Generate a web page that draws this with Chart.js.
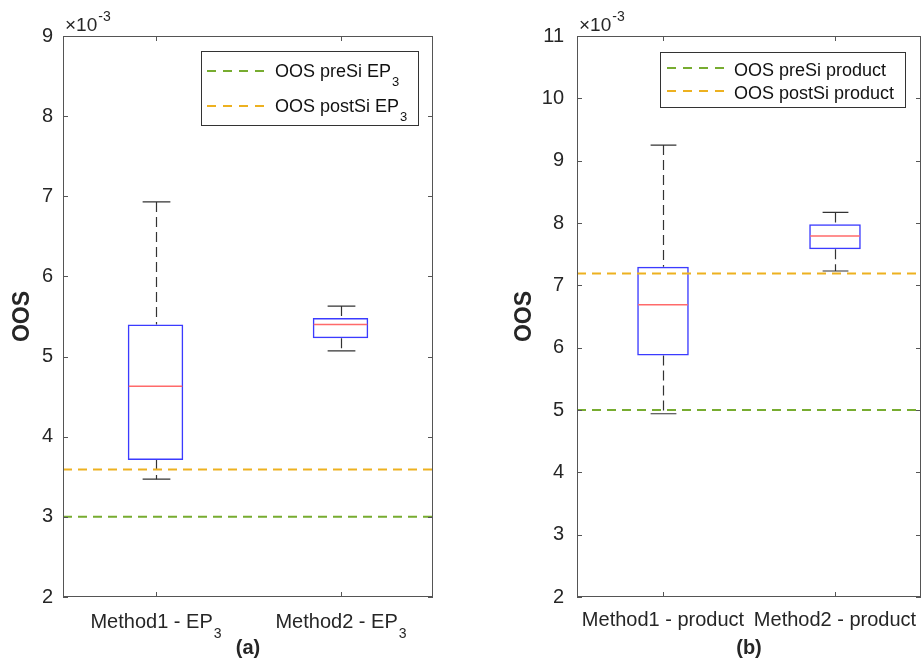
<!DOCTYPE html>
<html>
<head>
<meta charset="utf-8">
<script src="https://cdn.jsdelivr.net/npm/chart.js@4.4.0/dist/chart.umd.min.js"></script>
<style>
  body { margin: 0; background: #fff; }
  #wrap { position: relative; width: 922px; height: 666px; }
  canvas { position: absolute; top: 0; }
  #chartA { left: 0; }
  #chartB { left: 460px; }
</style>
</head>
<body>
<div id="wrap">
  <canvas id="chartA" width="460" height="666"></canvas>
  <canvas id="chartB" width="462" height="666"></canvas>
</div>
<script>
// panel (a) - EP3
const categoriesA = ['Method1 - EP_3', 'Method2 - EP_3'];
const lowA  = [0.00347, 0.00507];
const q1A   = [0.00371, 0.00523];
const medA  = [0.00463, 0.00540];
const q3A   = [0.00540, 0.00548];
const highA = [0.00693, 0.00563];
const refNamesA  = ['OOS preSi EP_3', 'OOS postSi EP_3'];
const refValuesA = [0.00300, 0.00359];

// panel (b) - product
const categoriesB = ['Method1 - product', 'Method2 - product'];
const lowB  = [0.00494, 0.00723];
const q1B   = [0.005875, 0.00758];
const medB  = [0.00669, 0.00779];
const q3B   = [0.00730, 0.00798];
const highB = [0.00925, 0.00817];
const refNamesB  = ['OOS preSi product', 'OOS postSi product'];
const refValuesB = [0.00500, 0.00719];

const refColors = ['#77AC30', '#EDB120'];
const FONT = '"Liberation Sans", Arial, Helvetica, sans-serif';
const TXT = '#262626';

// text with an optional "_x" subscript at the end
function drawSubText(ctx, text, x, y, size, align) {
    const parts = text.split('_');
    const subSize = Math.round(size * 0.72);
    ctx.font = size + 'px ' + FONT;
    const w1 = ctx.measureText(parts[0]).width;
    ctx.font = subSize + 'px ' + FONT;
    const w2 = parts[1] ? ctx.measureText(parts[1]).width : 0;
    let x0 = x;
    if (align === 'center') x0 = x - (w1 + w2) / 2;
    ctx.textAlign = 'left';
    ctx.textBaseline = 'alphabetic';
    ctx.font = size + 'px ' + FONT;
    ctx.fillText(parts[0], x0, y);
    if (parts[1]) {
        ctx.font = subSize + 'px ' + FONT;
        ctx.fillText(parts[1], x0 + w1 + 1, y + Math.round(size * 0.5));
    }
}

const matlabAxes = {
    id: 'matlabAxes',
    beforeDatasetsDraw(chart, args, opts) {
        // whiskers and caps
        const ctx = chart.ctx;
        const xs = chart.scales.x, ys = chart.scales.y;
        const s = opts.stats;
        ctx.save();
        ctx.strokeStyle = '#333';
        ctx.lineWidth = 1.2;
        s.low.forEach((v, i) => {
            const px = Math.round(xs.getPixelForValue(i + 1)) + 0.5;
            const capHalf = (xs.getPixelForValue(1 + 0.075) - xs.getPixelForValue(1));
            ctx.setLineDash([10, 5]);
            ctx.beginPath();
            ctx.moveTo(px, ys.getPixelForValue(s.high[i]));
            ctx.lineTo(px, ys.getPixelForValue(s.q3[i]));
            ctx.moveTo(px, ys.getPixelForValue(s.q1[i]));
            ctx.lineTo(px, ys.getPixelForValue(s.low[i]));
            ctx.stroke();
            ctx.setLineDash([]);
            ctx.beginPath();
            [s.high[i], s.low[i]].forEach(w => {
                const py = ys.getPixelForValue(w);
                ctx.moveTo(px - capHalf, py);
                ctx.lineTo(px + capHalf, py);
            });
            ctx.stroke();
        });
        ctx.restore();
    },
    afterDraw(chart, args, opts) {
        const ctx = chart.ctx;
        const xs = chart.scales.x, ys = chart.scales.y;
        const { left, right, top, bottom } = chart.chartArea;
        const s = opts.stats;
        ctx.save();

        // medians
        ctx.strokeStyle = '#ff6a6a';
        ctx.lineWidth = 1.5;
        s.med.forEach((v, i) => {
            const px = xs.getPixelForValue(i + 1);
            const half = xs.getPixelForValue(1 + 0.15) - xs.getPixelForValue(1);
            const py = ys.getPixelForValue(v);
            ctx.beginPath();
            ctx.moveTo(px - half + 1, py);
            ctx.lineTo(px + half - 1, py);
            ctx.stroke();
        });

        // box frame and inner ticks
        ctx.strokeStyle = '#555';
        ctx.lineWidth = 1;
        ctx.strokeRect(left + 0.5, top + 0.5, right - left - 1, bottom - top - 1);
        ctx.beginPath();
        ys.ticks.forEach(t => {
            const py = Math.round(ys.getPixelForValue(t.value)) + 0.5;
            ctx.moveTo(left, py); ctx.lineTo(left + 5, py);
            ctx.moveTo(right - 5, py); ctx.lineTo(right, py);
        });
        xs.ticks.forEach(t => {
            const px = Math.round(xs.getPixelForValue(t.value)) + 0.5;
            ctx.moveTo(px, top); ctx.lineTo(px, top + 5);
            ctx.moveTo(px, bottom - 5); ctx.lineTo(px, bottom);
        });
        ctx.stroke();

        // category labels
        ctx.fillStyle = TXT;
        opts.categories.forEach((c, i) => {
            drawSubText(ctx, c, xs.getPixelForValue(i + 1), opts.catBaseline, 20, 'center');
        });

        // panel letter
        ctx.font = 'bold 20px ' + FONT;
        ctx.textAlign = 'center';
        ctx.fillText(opts.letter, (left + right) / 2, 654);

        // y title
        ctx.save();
        ctx.translate(opts.yTitleX, (top + bottom) / 2);
        ctx.rotate(-Math.PI / 2);
        ctx.font = 'bold 23px ' + FONT;
        ctx.textAlign = 'center';
        ctx.textBaseline = 'middle';
        ctx.fillText('OOS', 0, 0);
        ctx.restore();

        // exponent multiplier
        ctx.textAlign = 'left';
        ctx.font = '19px ' + FONT;
        const wm = ctx.measureText('\u00d710').width;
        ctx.fillText('\u00d710', left + 2, 31);
        ctx.font = '14px ' + FONT;
        ctx.fillText('-3', left + 2 + wm + 1, 21);

        // legend
        const L = opts.legend;
        ctx.fillStyle = '#fff';
        ctx.fillRect(L.x, L.y, L.w, L.h);
        ctx.strokeStyle = '#333';
        ctx.strokeRect(L.x + 0.5, L.y + 0.5, L.w, L.h);
        opts.refNames.forEach((name, i) => {
            ctx.strokeStyle = refColors[i];
            ctx.lineWidth = 2;
            ctx.setLineDash([9, 7]);
            ctx.beginPath();
            ctx.moveTo(L.lineX0, L.rows[i]);
            ctx.lineTo(L.lineX1, L.rows[i]);
            ctx.stroke();
            ctx.setLineDash([]);
            ctx.fillStyle = '#111';
            drawSubText(ctx, name, L.textX, L.baselines[i], 18, 'left');
        });
        ctx.restore();
    }
};

function makePanel(id, cats, low, q1, med, q3, high, refNames, refValues, yMin, yMax, layout) {
    const ctx = document.getElementById(id).getContext('2d');
    const datasets = [{
        type: 'bar',
        data: cats.map((c, i) => ({ x: i + 1, y: [q1[i], q3[i]] })),
        backgroundColor: 'rgba(0,0,0,0)',
        borderColor: '#3b3bff',
        borderWidth: 1.5,
        borderSkipped: false,
        barPercentage: 0.3,
        categoryPercentage: 1,
        order: 2
    }];
    refValues.forEach((v, i) => {
        datasets.push({
            type: 'line',
            data: [{ x: 0.5, y: v }, { x: 2.5, y: v }],
            borderColor: refColors[i],
            borderWidth: 2,
            borderDash: [9, 6],
            pointRadius: 0,
            order: 1
        });
    });
    return new Chart(ctx, {
        type: 'bar',
        data: { datasets: datasets },
        options: {
            responsive: false,
            animation: false,
            events: [],
            layout: { padding: { top: 36, right: layout.padRight, left: 0, bottom: 0 } },
            scales: {
                x: {
                    type: 'linear',
                    min: 0.5,
                    max: 2.5,
                    offset: false,
                    afterBuildTicks: axis => { axis.ticks = [{ value: 1 }, { value: 2 }]; },
                    ticks: { display: false },
                    grid: { display: false, drawTicks: false, offset: false },
                    border: { display: false },
                    afterFit: axis => { axis.height = 69; }
                },
                y: {
                    min: yMin,
                    max: yMax,
                    ticks: {
                        stepSize: 0.001,
                        padding: layout.tickPad,
                        color: TXT,
                        font: { family: FONT, size: 20 },
                        callback: v => Math.round(v * 1000)
                    },
                    grid: { display: false, drawTicks: false },
                    border: { display: false },
                    afterFit: axis => { axis.width = layout.yWidth; }
                }
            },
            plugins: {
                legend: { display: false },
                tooltip: { enabled: false },
                matlabAxes: {
                    stats: { low, q1, med, q3, high },
                    categories: cats,
                    refNames: refNames,
                    catBaseline: layout.catBaseline,
                    yTitleX: layout.yTitleX,
                    letter: layout.letter,
                    legend: layout.legend
                }
            }
        },
        plugins: [matlabAxes]
    });
}

makePanel('chartA', categoriesA, lowA, q1A, medA, q3A, highA, refNamesA, refValuesA, 0.002, 0.009, {
    padRight: 27, yWidth: 63, tickPad: 10, catBaseline: 628, yTitleX: 23, letter: '(a)',
    legend: { x: 201, y: 51, w: 217, h: 74, lineX0: 207, lineX1: 265, textX: 275, rows: [71, 106], baselines: [77, 112] }
});

makePanel('chartB', categoriesB, lowB, q1B, medB, q3B, highB, refNamesB, refValuesB, 0.002, 0.011, {
    padRight: 1, yWidth: 117, tickPad: 13, catBaseline: 626, yTitleX: 65, letter: '(b)',
    legend: { x: 200, y: 52, w: 245, h: 55, lineX0: 207, lineX1: 264, textX: 274, rows: [68, 91], baselines: [76, 99] }
});
</script>
</body>
</html>
